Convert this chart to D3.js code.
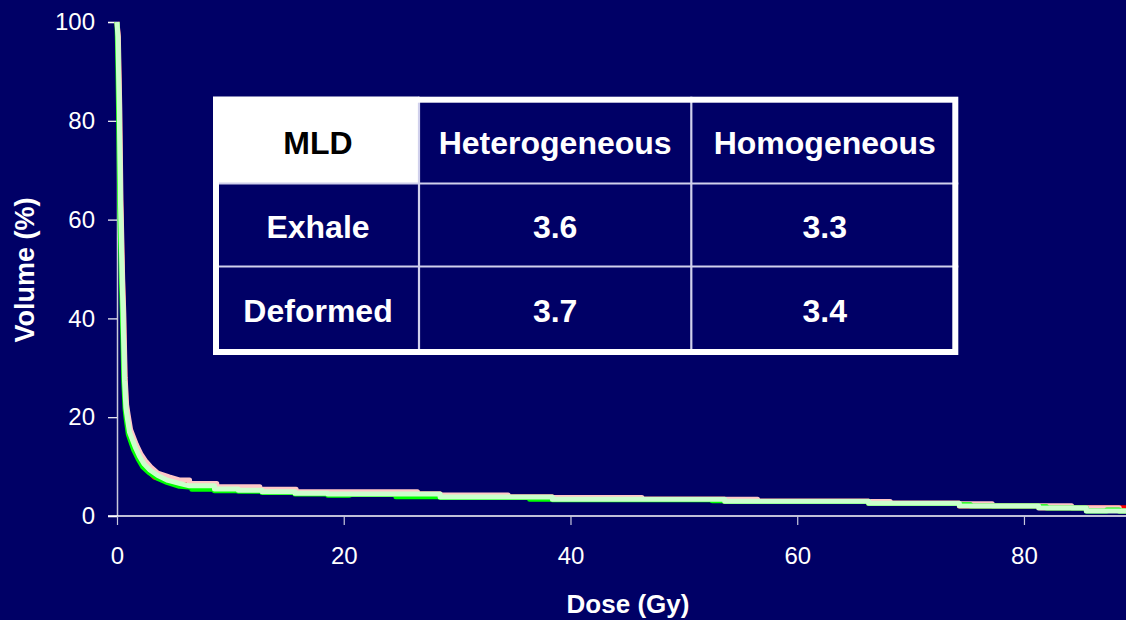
<!DOCTYPE html>
<html>
<head>
<meta charset="utf-8">
<script src="https://cdn.jsdelivr.net/npm/d3@7"></script>
<style>
  html, body { margin: 0; padding: 0; background: #000066; }
  svg { display: block; }
  text { font-family: "Liberation Sans", Arial, sans-serif; }
</style>
</head>
<body>
<svg id="chart" width="1126" height="620"></svg>
<script>
// Dose-volume histogram curves (dose in Gy, volume in %)
const pinkDose = [0, 0.12, 0.25, 0.35, 0.5, 0.6, 0.72, 0.85, 0.98, 1.2, 1.7, 2.1, 2.5, 3.0, 3.6, 4.6, 5.5, 6.4, 6.4, 8.8, 8.8, 12.6, 12.6, 15.8, 15.8, 20.5, 26.5, 26.5, 28.5, 28.5, 34.5, 34.5, 38.4, 38.4, 46.3, 46.3, 56.5, 56.5, 66.3, 66.3, 68.2, 68.2, 74.3, 74.3, 77.2, 77.2, 84.2, 84.2, 88.4, 88.4, 89];
const pinkVol  = [100, 97, 82, 64, 48, 41, 28, 22.5, 20.5, 17.5, 14.5, 12.6, 11.2, 9.9, 8.7, 7.9, 7.3, 7.3, 6.6, 6.6, 5.9, 5.9, 5.4, 5.4, 4.95, 4.9, 4.9, 4.45, 4.45, 4.25, 4.25, 3.85, 3.85, 3.75, 3.75, 3.4, 3.4, 3.0, 3.0, 2.95, 2.95, 2.6, 2.6, 2.5, 2.5, 2.05, 2.05, 1.65, 1.65, 1.0, 1.0];

const redDose = [0, 0.1, 0.22, 0.32, 0.48, 0.57, 0.7, 0.82, 0.95, 1.15, 1.65, 2.05, 2.4, 2.6, 3.3, 4.9, 5.5, 6.4, 8.6, 8.6, 10.7, 10.7, 12.8, 12.8, 15.7, 15.7, 18.6, 18.6, 28.5, 28.5, 38.4, 38.4, 53.6, 53.6, 66.3, 66.3, 74.3, 74.3, 81.3, 81.3, 85.5, 89];
const redVol  = [100, 97, 82, 64, 48, 41, 28, 22.2, 20.2, 17.2, 14.2, 12.2, 10.2, 9.7, 7.8, 7.45, 6.9, 6.4, 6.1, 5.45, 5.45, 5.2, 5.2, 4.9, 4.9, 4.6, 4.6, 4.45, 4.45, 3.85, 3.85, 3.4, 3.4, 3.0, 3.0, 2.6, 2.6, 2.0, 2.0, 1.65, 1.65, 1.65];

const greenDose = [0, 0.05, 0.15, 0.25, 0.4, 0.48, 0.6, 0.72, 0.82, 1.0, 1.45, 1.85, 2.25, 2.8, 3.5, 4.4, 5.5, 6.6, 6.6, 8.6, 8.6, 10.7, 10.7, 12.8, 12.8, 15.7, 15.7, 18.6, 18.6, 20.5, 20.5, 24.6, 24.6, 28.5, 28.5, 36.4, 36.4, 38.4, 38.4, 52.5, 52.5, 53.6, 53.6, 66.3, 66.3, 74.3, 74.3, 75.3, 75.3, 81.3, 81.3, 82, 82, 85.5, 85.5, 87.3, 87.3, 88.4, 88.4, 89];
const greenVol  = [100, 95, 80, 62, 47, 40, 27, 21.5, 19.5, 16.5, 13.5, 11.6, 10.0, 8.8, 7.7, 6.8, 6.0, 5.8, 5.4, 5.4, 5.1, 5.1, 5.0, 5.0, 4.75, 4.75, 4.45, 4.45, 4.2, 4.2, 4.35, 4.35, 3.9, 3.9, 3.75, 3.75, 3.4, 3.4, 3.3, 3.3, 3.07, 3.07, 2.95, 2.95, 2.55, 2.55, 2.3, 2.3, 2.0, 2.0, 1.85, 1.85, 1.6, 1.6, 1.0, 1.0, 1.2, 1.2, 1.0, 1.0];

const lightDose = [0, 0.08, 0.2, 0.3, 0.45, 0.53, 0.66, 0.78, 0.9, 1.1, 1.6, 2.0, 2.4, 2.9, 3.6, 4.5, 5.5, 6.4, 8.6, 8.6, 10.7, 10.7, 12.8, 12.8, 15.7, 15.7, 18.6, 18.6, 28.5, 28.5, 38.4, 38.4, 53.6, 53.6, 66.3, 66.3, 74.3, 74.3, 81.3, 81.3, 85.5, 85.5, 89];
const lightVol  = [100, 97, 82, 64, 48, 41, 27.5, 22, 20, 17, 14, 12, 10.5, 9.3, 8.2, 7.2, 6.6, 6.1, 6.1, 5.45, 5.45, 5.2, 5.2, 4.9, 4.9, 4.6, 4.6, 4.45, 4.45, 3.85, 3.85, 3.4, 3.4, 3.0, 3.0, 2.6, 2.6, 2.0, 2.0, 1.6, 1.6, 1.0, 1.0];

const xTicks = [0, 20, 40, 60, 80];
const yTicks = [0, 20, 40, 60, 80, 100];

// MLD table
const tableHeader = ["MLD", "Heterogeneous", "Homogeneous"];
const tableRows = ["Exhale", "Deformed"];
const heteroMLD = [3.6, 3.7];
const homoMLD = [3.3, 3.4];

const svg = d3.select("#chart");
const W = 1126, H = 620;

const x = d3.scaleLinear().domain([0, 89]).range([117, 1126]);
const y = d3.scaleLinear().domain([0, 100]).range([516, 22]);

// Background
svg.append("rect").attr("width", W).attr("height", H).attr("fill", "#000066");

// Y axis
const yAxis = svg.append("g").attr("transform", `translate(${x(0)},0)`)
  .call(d3.axisLeft(y).tickValues(yTicks).tickSize(9).tickPadding(13).tickFormat(d3.format("d")));
yAxis.select(".domain").attr("stroke", "#c8c8dc").attr("stroke-width", 1.5);
yAxis.selectAll(".tick line").attr("stroke", "#ffffff").attr("stroke-width", 1.2);
yAxis.selectAll(".tick text").attr("fill", "#ffffff").attr("font-size", 24)
  .attr("font-family", "'Liberation Sans', Arial, sans-serif");

// X axis
const xAxis = svg.append("g").attr("transform", `translate(0,${y(0)})`)
  .call(d3.axisBottom(x).tickValues(xTicks).tickSize(9).tickPadding(22).tickFormat(d3.format("d")));
xAxis.select(".domain").attr("stroke", "#ffffff").attr("stroke-width", 1.5)
  .attr("d", `M${x(0) - 9},0H${W}`);
xAxis.selectAll(".tick line").attr("stroke", "#c8c8dc").attr("stroke-width", 1.2);
xAxis.selectAll(".tick text").attr("fill", "#ffffff").attr("font-size", 24)
  .attr("font-family", "'Liberation Sans', Arial, sans-serif");

// Axis titles
svg.append("text").attr("x", 628).attr("y", 613).attr("text-anchor", "middle")
  .attr("fill", "#ffffff").attr("font-size", 26).attr("font-weight", "bold").text("Dose (Gy)");
svg.append("text").attr("transform", "translate(34,270) rotate(-90)").attr("text-anchor", "middle")
  .attr("fill", "#ffffff").attr("font-size", 27).attr("font-weight", "bold").text("Volume (%)");

// Curves
const line = d3.line().x(d => x(d[0])).y(d => y(d[1]));
const series = [
  { dose: redDose, vol: redVol, color: "#ff0000" },
  { dose: pinkDose, vol: pinkVol, color: "#ffc8c8" },
  { dose: greenDose, vol: greenVol, color: "#00ff00" },
  { dose: lightDose, vol: lightVol, color: "#ccffcc" }
];
svg.append("defs").append("clipPath").attr("id", "plotClip")
  .append("rect").attr("x", 100).attr("y", 0).attr("width", W - 100).attr("height", 530);
const curves = svg.append("g").attr("clip-path", "url(#plotClip)");
series.forEach(s => {
  curves.append("path")
    .datum(s.dose.map((d, i) => [d, s.vol[i]]))
    .attr("d", line)
    .attr("fill", "none")
    .attr("stroke", s.color)
    .attr("stroke-width", 5)
    .attr("stroke-linejoin", "round");
});

// Table
const tbl = { left: 213, top: 96.7, right: 958.3, bottom: 355 };
const colX = [tbl.left, 419, 691.3, tbl.right];
const rowY = [tbl.top, 183.5, 266.5, tbl.bottom];
const tg = svg.append("g");
tg.append("rect").attr("x", tbl.left).attr("y", tbl.top)
  .attr("width", tbl.right - tbl.left).attr("height", tbl.bottom - tbl.top).attr("fill", "#000066");
tg.append("rect").attr("x", colX[0]).attr("y", rowY[0])
  .attr("width", colX[1] - colX[0]).attr("height", rowY[1] - rowY[0]).attr("fill", "#ffffff");
[colX[1], colX[2]].forEach(cx => {
  tg.append("line").attr("x1", cx).attr("x2", cx).attr("y1", tbl.top).attr("y2", tbl.bottom)
    .attr("stroke", "#d0d0ec").attr("stroke-width", 2.2);
});
[rowY[1], rowY[2]].forEach(ry => {
  tg.append("line").attr("x1", tbl.left).attr("x2", tbl.right).attr("y1", ry).attr("y2", ry)
    .attr("stroke", "#d0d0ec").attr("stroke-width", 2.2);
});
tg.append("rect").attr("x", tbl.left + 3).attr("y", tbl.top + 3)
  .attr("width", tbl.right - tbl.left - 6).attr("height", tbl.bottom - tbl.top - 6)
  .attr("fill", "none").attr("stroke", "#ffffff").attr("stroke-width", 6);

const rowShift = [3, 1.5, 0.5];
const cellText = (col, row, txt, fill) => {
  tg.append("text")
    .attr("x", (colX[col] + colX[col + 1]) / 2 + (col === 0 ? 2 : 0))
    .attr("y", (rowY[row] + rowY[row + 1]) / 2 + rowShift[row])
    .attr("text-anchor", "middle").attr("dominant-baseline", "central")
    .attr("font-size", 32).attr("font-weight", "bold").attr("fill", fill).text(txt);
};
tableHeader.forEach((h, i) => cellText(i, 0, h, i === 0 ? "#000000" : "#ffffff"));
tableRows.forEach((r, i) => {
  cellText(0, i + 1, r, "#ffffff");
  cellText(1, i + 1, heteroMLD[i].toFixed(1), "#ffffff");
  cellText(2, i + 1, homoMLD[i].toFixed(1), "#ffffff");
});
</script>
</body>
</html>
